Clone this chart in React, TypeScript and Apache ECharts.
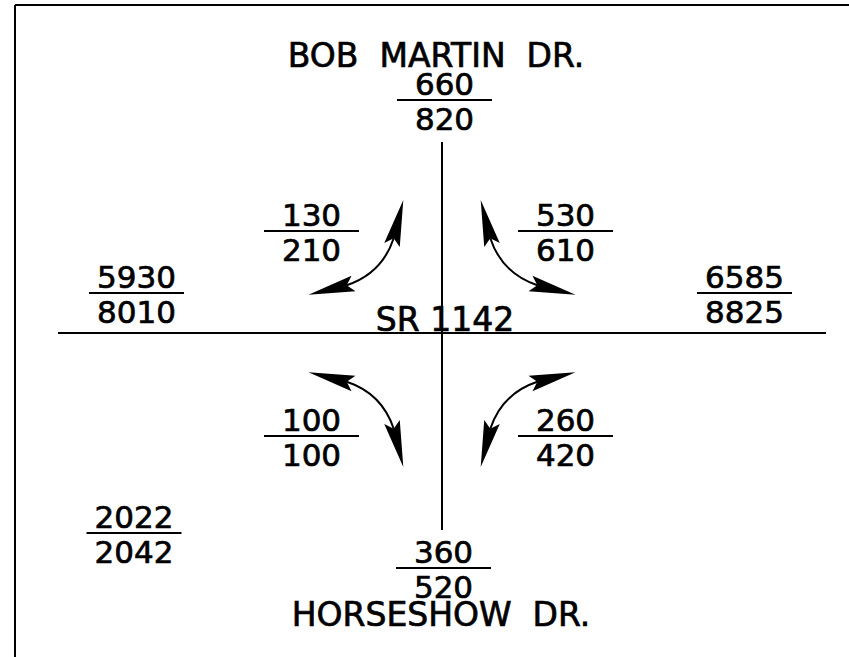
import React, { useEffect, useRef } from "react";
import * as echarts from "echarts";

// ---------- data ----------
const movements = ["N", "W", "E", "S", "NW", "NE", "SW", "SE", "YEAR"];
const topValues = ["660", "5930", "6585", "360", "130", "530", "100", "260", "2022"];
const bottomValues = ["820", "8010", "8825", "520", "210", "610", "100", "420", "2042"];
const streetNames = ["BOB  MARTIN  DR.", "SR 1142", "HORSESHOW  DR."];

// ---------- layout (diagram coordinates, y grows downward) ----------
const fractionPos: number[][] = [
  [444.5, 100], [136.5, 293], [744.5, 293], [443.5, 568],
  [311.5, 231], [565.5, 231], [311.5, 436], [565.5, 436], [134, 533],
];
const streetPos: number[][] = [[436, 55], [445, 319.5], [441, 614.5]];
const roadSegments: number[][] = [[58, 333, 826, 333], [442, 142, 442, 530]];
const borderSegments: number[][] = [[15, 5, 849, 5], [15, 5, 15, 657]];
const CENTER = [442, 333.5];
const arrowQuadrants: number[][] = [[1, 1], [-1, 1], [1, -1], [-1, -1]];
// NW arrow geometry relative to intersection centre
const tipA = [-38.7, -133.5];
const baseA = [-50, -88.5];
const ctrl = [-60, -60];

const FONT = '"DejaVu Sans", sans-serif';

function headPoly(tip: number[], base: number[], hw: number, notch: number) {
  const dx = base[0] - tip[0];
  const dy = base[1] - tip[1];
  const L = Math.hypot(dx, dy);
  const ux = dx / L, uy = dy / L;
  const nx = -uy, ny = ux;
  const neck = [tip[0] + ux * (L - notch), tip[1] + uy * (L - notch)];
  return {
    points: [tip, [base[0] + nx * hw, base[1] + ny * hw], neck, [base[0] - nx * hw, base[1] - ny * hw]],
    neck,
  };
}

export default function App() {
  const ref = useRef<HTMLDivElement>(null);
  useEffect(() => {
    if (!ref.current) return;
    const chart = echarts.init(ref.current, null, { renderer: "svg" });
    const txt = (x: number, y: number, text: string, size: number) => ({
      type: "text",
      x,
      y,
      style: {
        text,
        font: `${size}px ${FONT}`,
        fill: "#000",
        stroke: "#000",
        lineWidth: 0.7,
        textAlign: "center",
        textVerticalAlign: "middle",
        align: "center",
        verticalAlign: "middle",
      },
    });
    const segSeries = (name: string, segs: number[][], width: number) => ({
      type: "custom",
      name,
      coordinateSystem: "cartesian2d",
      data: segs.map((s, i) => [s[0], s[1], i]),
      renderItem: (params: any, api: any) => {
        const s = segs[params.dataIndex];
        const a = api.coord([s[0], s[1]]);
        const b = api.coord([s[2], s[3]]);
        return {
          type: "line",
          shape: { x1: a[0], y1: a[1], x2: b[0], y2: b[1] },
          style: { stroke: "#000", lineWidth: width },
        };
      },
      silent: true,
    });

    chart.setOption({
      animation: false,
      backgroundColor: "#fff",
      grid: { left: 0, right: 0, top: 0, bottom: 0 },
      xAxis: { type: "value", min: 0, max: 849, show: false },
      yAxis: { type: "value", min: 0, max: 657, inverse: true, show: false },
      series: [
        segSeries("border", borderSegments, 2),
        segSeries("roads", roadSegments, 2),
        {
          type: "custom",
          name: "volumes",
          coordinateSystem: "cartesian2d",
          data: movements.map((m, i) => [fractionPos[i][0], fractionPos[i][1], i]),
          renderItem: (params: any, api: any) => {
            const i = params.dataIndex;
            const [x, y] = fractionPos[i];
            const p = api.coord([x, y]);
            const l = api.coord([x - 47.5, y]);
            const r = api.coord([x + 47.5, y]);
            return {
              type: "group",
              children: [
                {
                  type: "line",
                  shape: { x1: l[0], y1: l[1], x2: r[0], y2: r[1] },
                  style: { stroke: "#000", lineWidth: 2 },
                },
                txt(p[0], p[1] - 16.5, topValues[i], 31),
                txt(p[0], p[1] + 19, bottomValues[i], 31),
              ],
            };
          },
          silent: true,
        },
        {
          type: "custom",
          name: "streets",
          coordinateSystem: "cartesian2d",
          data: streetNames.map((s, i) => [streetPos[i][0], streetPos[i][1], i]),
          renderItem: (params: any, api: any) => {
            const i = params.dataIndex;
            const p = api.coord(streetPos[i]);
            return txt(p[0], p[1], streetNames[i], 33);
          },
          silent: true,
        },
        {
          type: "custom",
          name: "turns",
          coordinateSystem: "cartesian2d",
          data: arrowQuadrants.map((q, i) => [CENTER[0], CENTER[1], i]),
          renderItem: (params: any, api: any) => {
            const [sx, sy] = arrowQuadrants[params.dataIndex];
            const map = (v: number[]) => api.coord([CENTER[0] + sx * v[0], CENTER[1] + sy * v[1]]);
            const tA = map(tipA), bA = map(baseA);
            const tB = map([tipA[1], tipA[0]]), bB = map([baseA[1], baseA[0]]);
            const c = map(ctrl);
            const hA = headPoly(tA, bA, 8, 7);
            const hB = headPoly(tB, bB, 8, 7);
            return {
              type: "group",
              children: [
                {
                  type: "bezierCurve",
                  shape: { x1: hA.neck[0], y1: hA.neck[1], x2: hB.neck[0], y2: hB.neck[1], cpx1: c[0], cpy1: c[1] },
                  style: { stroke: "#000", lineWidth: 2, fill: "none" },
                },
                { type: "polygon", shape: { points: hA.points }, style: { fill: "#000" } },
                { type: "polygon", shape: { points: hB.points }, style: { fill: "#000" } },
              ],
            };
          },
          silent: true,
        },
      ],
    });
    return () => chart.dispose();
  }, []);
  return (
    <div
      ref={ref}
      style={{ position: "fixed", left: 0, top: 0, width: 849, height: 657, background: "#fff" }}
    />
  );
}
